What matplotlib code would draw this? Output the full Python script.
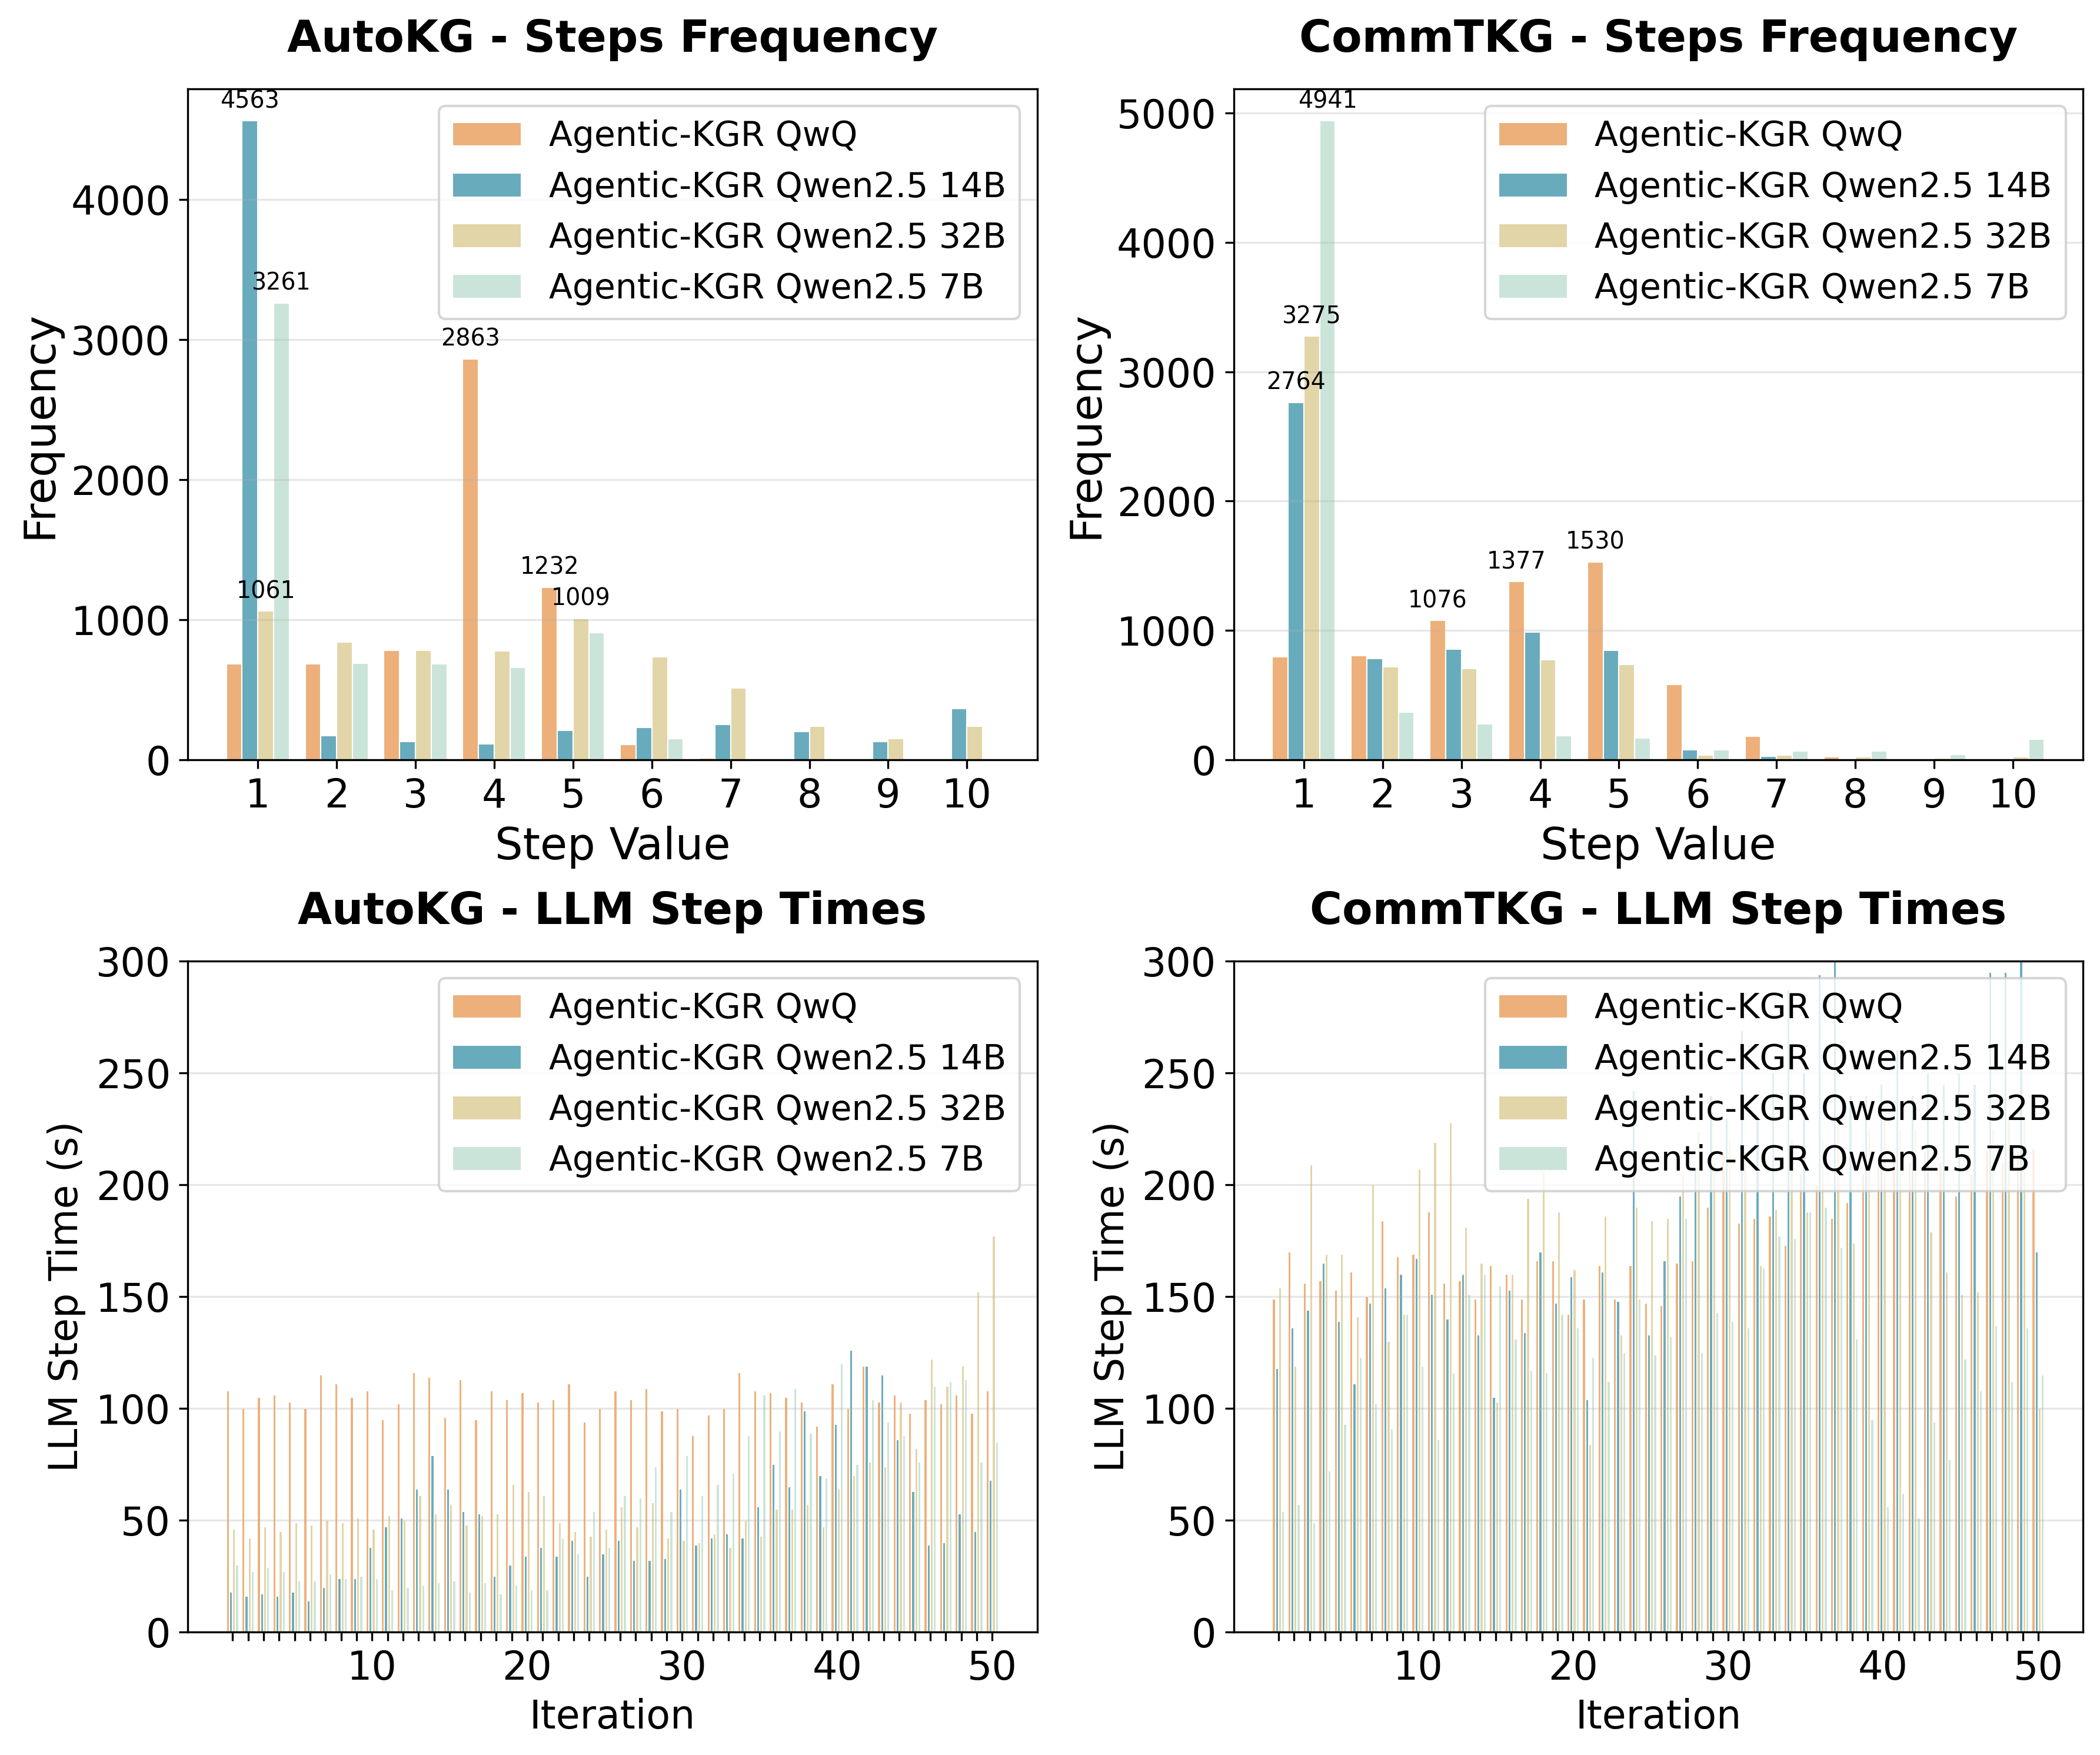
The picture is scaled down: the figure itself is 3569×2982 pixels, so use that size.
import matplotlib
matplotlib.use("Agg")
import matplotlib.pyplot as plt
import numpy as np

models = ["Agentic-KGR QwQ", "Agentic-KGR Qwen2.5 14B", "Agentic-KGR Qwen2.5 32B", "Agentic-KGR Qwen2.5 7B"]
colors = ["#EDB07A", "#68ABBC", "#E2D5A7", "#CBE4D9"]

steps = list(range(1, 11))

# step frequency, one list per model (QwQ, 14B, 32B, 7B)
autokg_qwq = [684, 684, 781, 2863, 1232, 111, 14, 0, 0, 0]
autokg_14b = [4563, 170, 128, 115, 208, 229, 253, 201, 128, 365]
autokg_32b = [1061, 840, 781, 778, 1009, 736, 514, 240, 153, 240]
autokg_7b = [3261, 688, 684, 660, 906, 149, 0, 0, 0, 0]

commtkg_qwq = [797, 805, 1076, 1377, 1530, 583, 180, 23, 0, 0]
commtkg_14b = [2764, 782, 853, 985, 846, 75, 26, 11, 0, 0]
commtkg_32b = [3275, 718, 707, 771, 737, 38, 38, 23, 15, 23]
commtkg_7b = [4941, 368, 278, 188, 169, 79, 68, 68, 41, 158]

iterations = list(range(1, 51))

# LLM step times (s) per iteration
autokg_time_qwq = [108, 100, 105, 106, 103, 100, 115, 111, 105, 108,
                   95, 102, 116, 114, 96, 113, 95, 108, 104, 107,
                   103, 104, 111, 94, 100, 108, 104, 109, 99, 100,
                   88, 97, 100, 116, 108, 107, 105, 103, 92, 111,
                   100, 119, 103, 106, 98, 104, 102, 106, 98, 108]
autokg_time_14b = [18, 16, 17, 16, 18, 14, 20, 24, 24, 38,
                   47, 51, 64, 79, 64, 54, 53, 25, 30, 34,
                   38, 34, 41, 25, 35, 41, 32, 32, 33, 64,
                   39, 42, 44, 42, 56, 75, 65, 99, 70, 93,
                   126, 119, 115, 86, 63, 39, 40, 53, 45, 68]
autokg_time_32b = [46, 42, 47, 45, 49, 48, 50, 49, 51, 46,
                   52, 50, 61, 53, 57, 48, 52, 53, 66, 63,
                   61, 49, 45, 43, 46, 56, 47, 58, 42, 41,
                   40, 44, 38, 50, 43, 55, 55, 57, 47, 64,
                   70, 76, 74, 103, 82, 122, 110, 119, 152, 177]
autokg_time_7b = [30, 27, 29, 27, 23, 23, 26, 24, 25, 24,
                  19, 20, 21, 22, 23, 18, 22, 17, 21, 19,
                  19, 42, 35, 54, 38, 61, 60, 74, 54, 79,
                  61, 66, 71, 88, 106, 90, 109, 89, 69, 120,
                  75, 104, 94, 88, 76, 110, 112, 113, 76, 85]

commtkg_time_qwq = [149, 170, 156, 157, 153, 161, 150, 184, 168, 169,
                    188, 156, 157, 149, 164, 160, 149, 166, 166, 142,
                    149, 164, 149, 164, 147, 146, 165, 166, 190, 215,
                    183, 185, 186, 173, 205, 200, 185, 192, 205, 210,
                    215, 210, 215, 210, 195, 205, 215, 210, 215, 216]
commtkg_time_14b = [118, 136, 144, 165, 139, 111, 147, 154, 160, 167,
                    151, 140, 160, 133, 105, 153, 134, 170, 147, 159,
                    104, 161, 148, 242, 133, 166, 195, 207, 240, 230,
                    269, 230, 250, 287, 250, 294, 310, 240, 240, 245,
                    260, 240, 250, 245, 250, 245, 295, 295, 310, 170]
commtkg_time_32b = [154, 119, 209, 169, 169, 141, 200, 130, 142, 207,
                    219, 228, 181, 165, 103, 160, 194, 209, 188, 162,
                    84, 186, 133, 190, 184, 185, 205, 224, 210, 220,
                    215, 164, 189, 220, 188, 220, 230, 174, 225, 230,
                    225, 225, 179, 161, 151, 152, 225, 230, 230, 100]
commtkg_time_7b = [54, 57, 49, 72, 93, 123, 102, 91, 142, 119,
                   86, 116, 151, 160, 155, 131, 117, 116, 142, 136,
                   123, 112, 125, 149, 124, 132, 185, 125, 143, 139,
                   136, 163, 177, 176, 188, 190, 172, 131, 95, 56,
                   62, 51, 94, 77, 122, 108, 137, 112, 136, 115]


def draw_freq(ax, series, title):
    x = np.array(steps)
    width = 0.2
    ymax = max(max(s) for s in series)
    for k, (vals, c, name) in enumerate(zip(series, colors, models)):
        pos = x + (k - 1.5) * width
        ax.bar(pos, vals, width, color=c, edgecolor="white", linewidth=0.5, label=name)
        # label the tall bars only
        for p, v in zip(pos, vals):
            if v > 1000:
                ax.text(p, v + ymax * 0.012, str(v), ha="center", va="bottom", fontsize=9.5)
    ax.set_title(title, fontsize=18, fontweight="bold", pad=15)
    ax.set_xlabel("Step Value", fontsize=18)
    ax.set_ylabel("Frequency", fontsize=18)
    ax.set_xticks(x)
    ax.set_ylim(0, ymax * 1.05)
    ax.tick_params(labelsize=16)
    ax.grid(axis="y", alpha=0.3)
    ax.legend(fontsize=14, loc="upper right")


def draw_time(ax, series, title):
    x = np.array(iterations)
    width = 0.2
    for k, (vals, c, name) in enumerate(zip(series, colors, models)):
        ax.bar(x + (k - 1.5) * width, vals, width, color=c, edgecolor="white", linewidth=0.5, label=name)
    ax.set_title(title, fontsize=18, fontweight="bold", pad=15)
    ax.set_xlabel("Iteration", fontsize=16)
    ax.set_ylabel("LLM Step Time (s)", fontsize=16)
    ax.set_xticks(x)
    ax.set_xticklabels([str(i) if i % 10 == 0 else "" for i in iterations])
    ax.set_ylim(0, 300)
    ax.tick_params(labelsize=16)
    ax.grid(axis="y", alpha=0.3)
    ax.legend(fontsize=14, loc="upper right")


fig, axes = plt.subplots(2, 2, figsize=(3569 / 300, 2982 / 300))
plt.subplots_adjust(left=0.0894, right=0.9919, top=0.9494, bottom=0.0701, wspace=0.2315, hspace=0.30)

draw_freq(axes[0, 0], [autokg_qwq, autokg_14b, autokg_32b, autokg_7b], "AutoKG - Steps Frequency")
draw_freq(axes[0, 1], [commtkg_qwq, commtkg_14b, commtkg_32b, commtkg_7b], "CommTKG - Steps Frequency")
draw_time(axes[1, 0], [autokg_time_qwq, autokg_time_14b, autokg_time_32b, autokg_time_7b], "AutoKG - LLM Step Times")
draw_time(axes[1, 1], [commtkg_time_qwq, commtkg_time_14b, commtkg_time_32b, commtkg_time_7b], "CommTKG - LLM Step Times")

fig.savefig("out.png", dpi=300)
